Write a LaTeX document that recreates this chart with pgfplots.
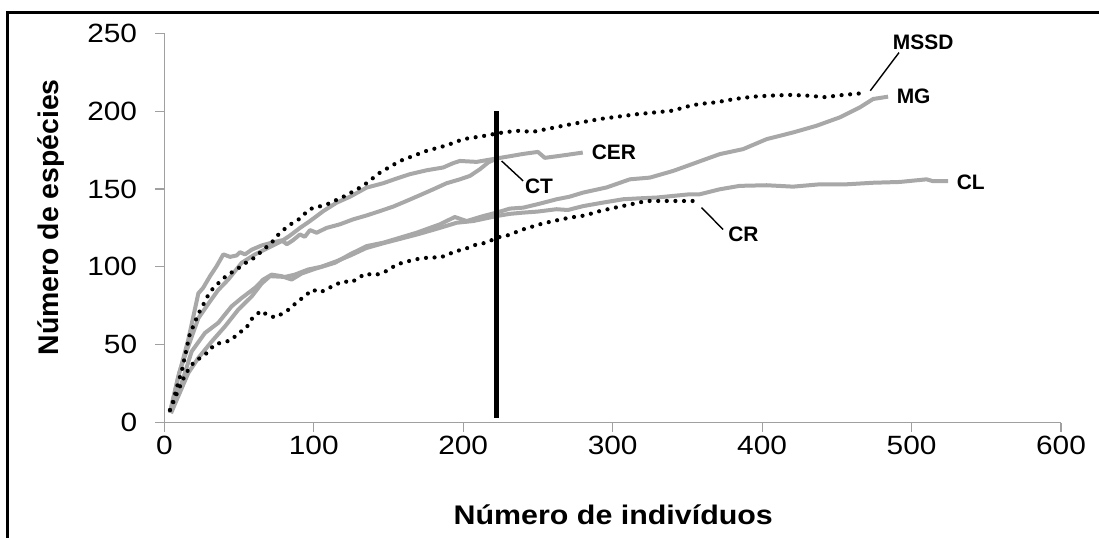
\documentclass[border=0pt]{standalone}
\usepackage{fontspec}
\setmainfont{Liberation Sans}
\newfontfamily\widefont[FakeStretch=1.13]{Liberation Sans}
\usepackage{pgfplots}
\pgfplotsset{compat=1.18}
\definecolor{curvegray}{HTML}{A8A8A8}
\definecolor{axisgray}{HTML}{A0A0A0}

\begin{document}
\begin{tikzpicture}
\useasboundingbox (-164.3bp,-115.5bp) rectangle (934.7bp,422.5bp);
% outer frame (open at the bottom and right)
\draw[line width=2.5bp] (-157bp,-130bp) -- (-157bp,410bp) -- (950bp,410bp);
\begin{axis}[
  at={(0,0)}, anchor=south west,
  scale only axis, width=896.7bp, height=389.2bp,
  xmin=0, xmax=600, ymin=0, ymax=250,
  axis lines*=left,
  axis line style={axisgray, line width=1.2bp},
  tick style={axisgray, line width=1.2bp},
  tick align=outside, major tick length=9bp,
  xtick={0,100,...,600}, ytick={0,50,...,250},
  /pgf/number format/assume math mode=true,
  tick label style={font=\widefont\fontsize{26.5}{30}\selectfont, inner sep=0pt},
  yticklabel style={anchor=east, xshift=-18bp},
  xticklabel style={anchor=north, yshift=-4.5bp},
  xlabel={\textbf{Número de indivíduos}},
  ylabel={\textbf{Número de espécies}},
  label style={inner sep=0pt},
  xlabel style={font=\widefont\fontsize{27}{32}\selectfont,
    at={(axis description cs:0.5007,-0.2608)}, anchor=base},
  ylabel style={font=\fontsize{28.5}{32}\selectfont,
    at={(axis description cs:-0.1185,0.527)}, anchor=base},
  clip=false,
]
% gray curves
\addplot[curvegray, line width=4bp, line join=round] coordinates {
(3.8,6.3) (9,28) (16,53) (22.8,83) (26,86.5) (30.6,94) (35,100.4) (39.5,108)
(44,106.4) (48.4,107.3) (50.6,109.4) (54,108) (58.5,111) (65.1,113.7) (71.8,115.5)
(78.5,117) (82,114.5) (86,117) (90.8,120.8) (94,119.3) (97.5,123.6) (101.9,121.9)
(108.6,125) (117.5,127.3) (126.4,130.5) (135.4,133) (144.3,135.8) (153.2,138.7)
(162.1,142.3) (171,146) (180,149.8) (188.9,153.7) (197.8,156.2) (204.5,158.4)
(211.2,162.7) (216.7,167) (222.3,169.6)};
\addplot[curvegray, line width=4bp, line join=round] coordinates {
(3.8,6.3) (10,32) (16,48.8) (22.8,67) (30,77) (36,85) (42.8,91.8) (51.8,102.6)
(60.7,108) (69.6,112.2) (78.5,116.5) (84,120) (90.8,125) (97.5,129.4) (106.4,135.8)
(115.3,141.2) (124.2,145) (135.4,150.9) (146.5,153.7) (155.4,156.7) (164.3,159.5)
(175.5,162) (186.6,163.8) (193.3,166.6) (197.8,168) (209,167.4) (222.3,169.6)
(231,171) (240,172.5) (246.8,173.4) (250,173.8) (254.6,170) (262.5,171) (270,172)
(280,173.4)};
\addplot[curvegray, line width=4bp, line join=round] coordinates {
(3.8,6.3) (11.6,25.3) (18.3,45.6) (27.2,57.5) (36.1,64) (45,74.6) (51.8,80)
(60.7,86.5) (66.2,91.8) (71.8,95) (78.5,94) (85.2,91.8) (91.9,95.7) (100.8,98.7)
(114.2,102.6) (124.2,108) (135.4,113.3) (146.5,115.5) (157.7,118.7) (168.8,121.9)
(184.4,127.3) (194.4,132) (202.3,129.4) (213.4,132.6) (222.3,134.8) (231.2,137.4)
(240.1,138) (251,140.5) (262.5,143.4) (271,145) (280.3,147.7) (296,151)
(311.5,156.2) (324.9,157.3) (340.5,161.6) (356.1,167) (371.7,172.4) (387.3,175.6)
(403,182) (420.7,186.3) (436.4,190.6) (452,196) (465.4,202.4) (474.3,207.8)
(484.3,209.3)};
\addplot[curvegray, line width=4bp, line join=round] coordinates {
(4.5,6) (16,31.7) (22.7,41.4) (31.7,52) (40.6,61.7) (49.5,72.5) (58.5,81)
(65.1,89.2) (70.7,94) (80.7,93.5) (87.4,95) (96.3,98.3) (105,100) (115,103.5)
(125,107.5) (135,112) (146,115) (158,118) (170,121) (184.4,125) (195.6,128.3)
(206.7,129.4) (222.3,132.6) (231,134) (240,134.8) (250,135.5) (262.5,137)
(270,136.5) (280.3,139) (292,141) (307,143.4) (318,144) (329.4,144.5) (340,145.5)
(351.6,146.6) (358.3,146.6) (371.7,149.8) (385,152) (403,152.4) (420.7,151.5)
(438.6,153) (456.5,153) (474.3,154) (492,154.5) (510,156.2) (514.4,155)
(524.4,155)};
% dotted curves
\addplot[black, line width=4.2bp, line cap=round, dash pattern=on 0pt off 8.6bp] coordinates {
(3.8,8) (6,14) (9.4,26) (11.6,32.7) (14.5,45.6) (17.2,57.5) (20,63) (22.3,69)
(25,73.6) (27.2,77.8) (30,83) (33.4,87) (42.4,95) (47.8,97.8) (53.5,102)
(60.2,105.8) (65.1,110) (71.8,115.5) (77.4,121.9) (84,127) (90.8,131) (97,137)
(108.6,140) (120.9,145.5) (133,152) (144.3,160.5) (157.7,168) (175.5,174.5)
(188.9,178) (200,182) (213.4,184) (224.5,186) (235.7,187.4) (246.6,186.7)
(255.9,188.5) (272.6,191.7) (291.9,195) (316,198) (340,200.3) (352,203.5)
(358.3,204.6) (369.5,205.7) (381.7,207.8) (394,209.3) (406.3,210) (418.5,210.4)
(429.7,210) (442,209) (454.2,210.4) (467,211.5)};
\addplot[black, line width=4.2bp, line cap=round, dash pattern=on 0pt off 8.6bp] coordinates {
(3.8,8) (6,13) (9,20) (13.4,29.5) (16,33.8) (20,39) (23.9,41.4) (29,45)
(33.9,50.4) (39.5,51.4) (45,53) (49.5,57.5) (54.4,60) (58.5,66.5) (64.7,71.8)
(69.6,68.6) (74.5,67.5) (79,70) (84,73) (89.2,77.8) (94,81) (99,85.4) (104,83.6)
(109.7,85.8) (112,87.5) (119.7,90.7) (125.3,90) (129.8,92.9) (135,95.7)
(139.8,94.6) (144.3,95.5) (149.8,97.8) (155.4,101.5) (163.2,103.6) (169.9,105.1)
(178.9,106.2) (183.3,105.8) (188.9,107.3) (194.4,110) (200,111) (209,114.4)
(215.7,115.5) (222.3,118.7) (230,120.3) (240,124) (251.3,127.3) (260.2,129.4)
(271.4,131.6) (281.4,133) (291.4,135.8) (301.5,138) (311.5,140) (322.7,142.3)
(333.8,142.3) (347.2,142.3) (358.3,142.3)};
% reference line
\addplot[black, line width=4.5bp] coordinates {(222.3,3) (222.3,200)};
% curve labels and leaders
\begin{scope}[font=\fontsize{21}{24}\selectfont\bfseries]
\draw[line width=1.4bp] (axis cs:472.4,213.1) -- (axis cs:491.6,237.6);
\draw[line width=1.4bp] (axis cs:225.7,168) -- (axis cs:240.1,155.2);
\draw[line width=1.4bp] (axis cs:359.5,138) -- (axis cs:373.9,124);
\node[anchor=west, inner sep=0pt] at (axis cs:487.4,244.5) {MSSD};
\node[anchor=west, inner sep=0pt] at (axis cs:490,209.5) {MG};
\node[anchor=west, inner sep=0pt] at (axis cs:530.2,154.5) {CL};
\node[anchor=west, inner sep=0pt] at (axis cs:285.9,173.4) {CER};
\node[anchor=west, inner sep=0pt] at (axis cs:241.3,152) {CT};
\node[anchor=west, inner sep=0pt] at (axis cs:377.3,120.8) {CR};
\end{scope}
\end{axis}
\end{tikzpicture}
\end{document}
